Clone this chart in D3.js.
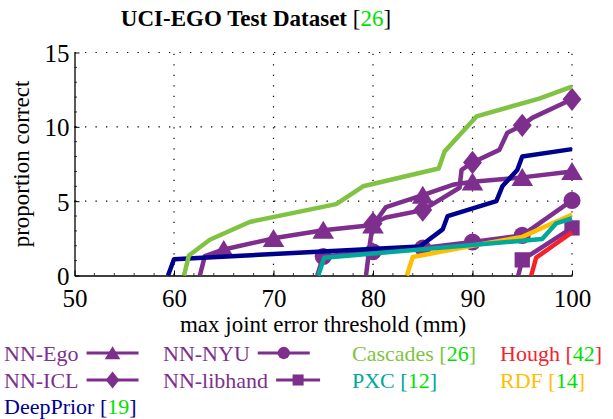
<!DOCTYPE html>
<html>
<head>
<meta charset="utf-8">
<script src="https://cdn.jsdelivr.net/npm/d3@7"></script>
<style>
  body { margin: 0; background: #fff; }
  svg { display: block; font-family: "Liberation Serif", "Times New Roman", serif; }
</style>
</head>
<body>
<svg width="613" height="419"></svg>
<script>
// thresholds (mm) and proportion correct
const nnEgo = [[62.6, 0], [63.1, 1.3], [65, 1.75], [70, 2.5], [75, 3.05], [80, 3.4], [81.3, 4.6], [85, 5.4], [88, 6.1], [90, 6.3], [95, 6.6], [100, 7.0]];
const nnIcl = [[79.3, 0], [79.7, 2.2], [80, 3.5], [81.3, 3.9], [85, 4.4], [88.7, 5.9], [88.9, 7.1], [90, 7.6], [92.7, 8.45], [93.5, 9.6], [95, 10.1], [96, 10.6], [100, 11.85]];
const nnNyu = [[74.4, 0], [75, 1.28], [80, 1.6], [85, 1.85], [90, 2.25], [95, 2.7], [100, 5.05]];
const nnLibhand = [[94.6, 0], [95, 1.05], [100, 3.2]];
const deepPrior = [[59.4, 0], [60, 1.1], [84.7, 1.95], [87, 3.1], [87.5, 4.0], [92.4, 5.0], [93, 6.0], [94.5, 7.1], [95, 8.0], [100, 8.5]];
const cascades = [[61, 0], [61.5, 1.35], [63.6, 2.4], [67.6, 3.6], [76.3, 4.8], [79, 6.0], [86.6, 7.2], [87.2, 8.35], [90.4, 10.7], [96.7, 11.9], [100, 12.7]];
const rdf = [[83.4, 0], [84, 1.25], [90, 2.0], [95, 2.6], [100, 4.1]];
const pxc = [[74.5, 0], [75.1, 1.2], [97, 2.45], [98.4, 3.5], [100, 3.85]];
const hough = [[95.9, 0], [96.4, 1.2], [98.2, 2.05], [100, 2.9]];

// markers sit on every 5 mm for the NN curves
const markerX = [65, 70, 75, 80, 85, 90, 95, 100];

const xTicks = [50, 60, 70, 80, 90, 100];
const yTicks = [0, 5, 10, 15];

const purple = '#7e2f8e';
const cite = '#00e000';

const series = [
  { name: 'NN-Ego', data: nnEgo, color: purple, marker: 'triangle' },
  { name: 'NN-ICL', data: nnIcl, color: purple, marker: 'diamond' },
  { name: 'NN-NYU', data: nnNyu, color: purple, marker: 'circle' },
  { name: 'NN-libhand', data: nnLibhand, color: purple, marker: 'square' },
  { name: 'DeepPrior', ref: '19', data: deepPrior, color: '#00008f' },
  { name: 'Cascades', ref: '26', data: cascades, color: '#80c342' },
  { name: 'RDF', ref: '14', data: rdf, color: '#ffbf00' },
  { name: 'PXC', ref: '12', data: pxc, color: '#00a89c' },
  { name: 'Hough', ref: '42', data: hough, color: '#f5222a' }
];

const svg = d3.select('svg');

const x = d3.scaleLinear().domain([50, 100]).range([74.5, 572]);
const y = d3.scaleLinear().domain([0, 15]).range([275.5, 52.5]);

// dotted grid
const grid = svg.append('g').attr('stroke', '#000').attr('stroke-width', 1.2)
  .attr('stroke-dasharray', '1.3,9.2');
grid.selectAll('line.gx').data(xTicks.slice(1)).enter().append('line')
  .attr('x1', d => x(d)).attr('x2', d => x(d))
  .attr('y1', y(0)).attr('y2', y(15));
grid.selectAll('line.gy').data(yTicks.slice(1)).enter().append('line')
  .attr('x1', x(50)).attr('x2', x(100))
  .attr('y1', d => y(d)).attr('y2', d => y(d));

// axes: ticks point inward, no box
const xAxis = d3.axisBottom(x).tickValues(xTicks).tickSizeInner(-5).tickSizeOuter(0);
const yAxis = d3.axisLeft(y).tickValues(yTicks).tickSizeInner(-5).tickSizeOuter(0).tickPadding(5);

const gx = svg.append('g').attr('transform', `translate(0,${y(0)})`).call(xAxis);
const gy = svg.append('g').attr('transform', `translate(${x(50)},0)`).call(yAxis);
[gx, gy].forEach(g => {
  g.select('.domain').attr('stroke', '#000').attr('stroke-width', 1.3);
  g.selectAll('.tick line').attr('stroke', '#000');
  g.selectAll('.tick text').attr('font-size', 25).attr('fill', '#000')
    .attr('font-family', '"Liberation Serif", serif');
});
gx.selectAll('.tick text').attr('dy', '0.71em').attr('y', 14);
gy.selectAll('.tick text').attr('dy', '0.36em');

// minor ticks
const minor = svg.append('g').attr('stroke', '#000').attr('stroke-width', 0.8);
minor.selectAll('line.mx').data(d3.range(52, 100, 2)).enter().append('line')
  .attr('x1', d => x(d)).attr('x2', d => x(d))
  .attr('y1', y(0)).attr('y2', y(0) - 2.5);
minor.selectAll('line.my').data(d3.range(1, 15, 1)).enter().append('line')
  .attr('x1', x(50)).attr('x2', x(50) + 2.5)
  .attr('y1', d => y(d)).attr('y2', d => y(d));

// axis labels and title
svg.append('text').attr('x', 323).attr('y', 332).attr('text-anchor', 'middle')
  .attr('font-size', 23).text('max joint error threshold (mm)');
svg.append('text').attr('transform', 'translate(29,164) rotate(-90)')
  .attr('text-anchor', 'middle').attr('font-size', 23).text('proportion correct');

const title = svg.append('text').attr('x', 256).attr('y', 26).attr('text-anchor', 'middle')
  .attr('font-size', 23).attr('font-weight', 'bold');
title.append('tspan').text('UCI-EGO Test Dataset ');
title.append('tspan').attr('font-weight', 'normal').text('[');
title.append('tspan').attr('font-weight', 'normal').attr('fill', cite).text('26');
title.append('tspan').attr('font-weight', 'normal').text(']');

// curves
const line = d3.line().x(d => x(d[0])).y(d => y(d[1]));
const bisect = d3.bisector(d => d[0]).left;
function valueAt(data, v) {
  const i = bisect(data, v);
  if (i <= 0) return data[0][1];
  if (i >= data.length) return data[data.length - 1][1];
  const a = data[i - 1], b = data[i];
  return a[1] + (b[1] - a[1]) * (v - a[0]) / (b[0] - a[0]);
}

function drawMarker(g, kind, cx, cy, s, color) {
  const h = s / 2;
  if (kind === 'circle') {
    g.append('circle').attr('cx', cx).attr('cy', cy).attr('r', h * 0.95).attr('fill', color);
  } else if (kind === 'square') {
    g.append('rect').attr('x', cx - h * 0.85).attr('y', cy - h * 0.85)
      .attr('width', s * 0.85).attr('height', s * 0.85).attr('fill', color);
  } else if (kind === 'triangle') {
    g.append('path')
      .attr('d', `M${cx},${cy - h * 1.05}L${cx + h * 1.2},${cy + h * 0.95}L${cx - h * 1.2},${cy + h * 0.95}Z`)
      .attr('fill', color);
  } else {
    g.append('path')
      .attr('d', `M${cx},${cy - h * 1.3}L${cx + h * 1.05},${cy}L${cx},${cy + h * 1.3}L${cx - h * 1.05},${cy}Z`)
      .attr('fill', color);
  }
}

const plot = svg.append('g');
series.forEach(s => {
  const g = plot.append('g');
  g.append('path').datum(s.data).attr('d', line)
    .attr('fill', 'none').attr('stroke', s.color).attr('stroke-width', 4.5)
    .attr('stroke-linejoin', 'round');
  if (s.marker) {
    const first = s.data[0][0];
    markerX.filter(v => v >= first).forEach(v => {
      drawMarker(g, s.marker, x(v), y(valueAt(s.data, v)), 18, s.color);
    });
  }
});

// legend
const legendItems = [
  { s: 0, col: 0, row: 0 }, { s: 2, col: 1, row: 0 }, { s: 5, col: 2, row: 0 }, { s: 8, col: 3, row: 0 },
  { s: 1, col: 0, row: 1 }, { s: 3, col: 1, row: 1 }, { s: 7, col: 2, row: 1 }, { s: 6, col: 3, row: 1 },
  { s: 4, col: 0, row: 2 }
];
const colX = [4, 163, 352, 500];
const rowY = [361, 388, 414];
const legend = svg.append('g').attr('font-size', 22);
legendItems.forEach(it => {
  const s = series[it.s];
  const tx = legend.append('text').attr('x', colX[it.col]).attr('y', rowY[it.row]).attr('fill', s.color);
  tx.append('tspan').text(s.name);
  if (s.ref) {
    tx.append('tspan').text(' [');
    tx.append('tspan').attr('fill', cite).text(s.ref);
    tx.append('tspan').text(']');
  }
  if (s.marker) {
    const w = tx.node().getComputedTextLength();
    const x0 = colX[it.col] + w + 8;
    const len = s.name === 'NN-libhand' ? 44 : 52;
    const ly = rowY[it.row] - 8;
    legend.append('line').attr('x1', x0).attr('x2', x0 + len).attr('y1', ly).attr('y2', ly)
      .attr('stroke', s.color).attr('stroke-width', 3);
    drawMarker(legend, s.marker, x0 + len / 2, ly, 13, s.color);
  }
});
</script>
</body>
</html>
